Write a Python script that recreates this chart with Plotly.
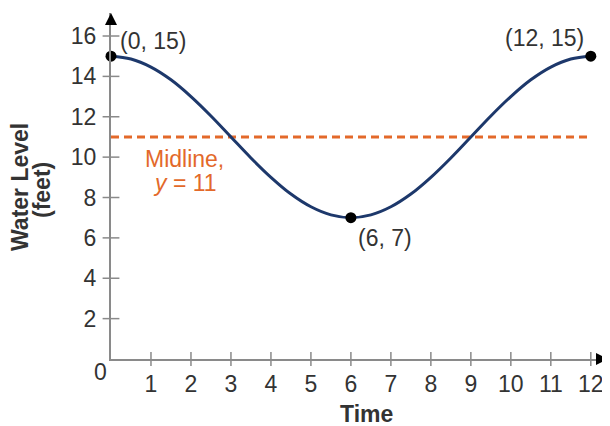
import plotly.graph_objects as go

# Data (water level in feet vs time)
time_pts = [0, 0.5, 1, 1.5, 2, 2.5, 3, 3.5, 4, 4.5, 5, 5.5, 6,
            6.5, 7, 7.5, 8, 8.5, 9, 9.5, 10, 10.5, 11, 11.5, 12]
level_pts = [15, 14.86, 14.46, 13.83, 13, 12.04, 11, 9.96, 9, 8.17, 7.54, 7.14, 7,
             7.14, 7.54, 8.17, 9, 9.96, 11, 12.04, 13, 13.83, 14.46, 14.86, 15]
key_x = [0, 6, 12]
key_y = [15, 7, 15]
key_labels = ["(0, 15)", "(6, 7)", "(12, 15)"]
midline_x = [0, 12]
midline_y = [11, 11]
midline_label_x = 1.85
x_ticks = [1, 2, 3, 4, 5, 6, 7, 8, 9, 10, 11, 12]
y_ticks = [2, 4, 6, 8, 10, 12, 14, 16]
x_max = 12.43
y_max = 17.14

AX = "#8a8a8a"
TXT = "#333333"
ORANGE = "#E3692A"
NAVY = "#1D386B"
FONT = "Liberation Sans, Arial, sans-serif"
FS = 23

fig = go.Figure()

# tick marks crossing the axes
fig.add_trace(go.Scatter(x=x_ticks, y=[0] * len(x_ticks), mode="markers",
                         marker=dict(symbol="line-ns", size=10, line=dict(color=AX, width=1.5)),
                         cliponaxis=False, hoverinfo="skip", showlegend=False))
fig.add_trace(go.Scatter(x=[0] * len(y_ticks), y=y_ticks, mode="markers",
                         marker=dict(symbol="line-ew", size=12, line=dict(color=AX, width=1.5)),
                         cliponaxis=False, hoverinfo="skip", showlegend=False))

# midline
fig.add_trace(go.Scatter(x=midline_x, y=midline_y, mode="lines",
                         line=dict(color=ORANGE, width=3, dash="8px,5px"),
                         hoverinfo="skip", showlegend=False))
# curve
fig.add_trace(go.Scatter(x=time_pts, y=level_pts, mode="lines",
                         line=dict(color=NAVY, width=3, shape="spline", smoothing=1),
                         cliponaxis=False, showlegend=False))
# key points
fig.add_trace(go.Scatter(x=key_x, y=key_y, mode="markers",
                         marker=dict(color="black", size=11),
                         cliponaxis=False, showlegend=False))

annotations = [
    # axis arrowheads
    dict(x=0, y=y_max, ax=0, ay=12, xref="x", yref="y",
         showarrow=True, arrowhead=2, arrowsize=1.6, arrowwidth=1.5, arrowcolor="black", text=""),
    dict(x=x_max, y=0, ax=-12, ay=0, xref="x", yref="y",
         showarrow=True, arrowhead=2, arrowsize=1.6, arrowwidth=1.5, arrowcolor="black", text=""),
    # point labels
    dict(x=key_x[0], y=key_y[0], text=key_labels[0], showarrow=False,
         xanchor="left", yanchor="middle", xshift=7, yshift=15),
    dict(x=key_x[1], y=key_y[1], text=key_labels[1], showarrow=False,
         xanchor="left", yanchor="middle", xshift=5, yshift=-20),
    dict(x=key_x[2], y=key_y[2], text=key_labels[2], showarrow=False,
         xanchor="right", yanchor="middle", xshift=-5, yshift=18),
    # midline label
    dict(x=midline_label_x, y=midline_y[0], text="Midline,", showarrow=False,
         xanchor="center", yanchor="middle", yshift=-22, font=dict(color=ORANGE)),
    dict(x=midline_label_x, y=midline_y[0], text="<i>y</i> = 11", showarrow=False,
         xanchor="center", yanchor="middle", yshift=-46, font=dict(color=ORANGE)),
    # origin label
    dict(x=0, y=0, text="0", showarrow=False, xanchor="right", yanchor="middle",
         xshift=-2, yshift=-13),
    # axis titles
    dict(x=0.5, y=0, xref="paper", yref="paper", text="<b>Time</b>", showarrow=False,
         xanchor="center", yanchor="middle", xshift=7, yshift=-55, borderpad=0),
    dict(x=0, y=0.5, xref="paper", yref="paper", text="<b>Water Level</b>", showarrow=False,
         textangle=-90, xanchor="center", yanchor="middle", xshift=-91, yshift=-1),
    dict(x=0, y=0.5, xref="paper", yref="paper", text="<b>(feet)</b>", showarrow=False,
         textangle=-90, xanchor="center", yanchor="middle", xshift=-69, yshift=-4),
]

# The page body has an 8px margin, so the figure is 8px smaller and offset.
fig.update_layout(
    width=602, height=418,
    margin=dict(l=103, r=2, t=5, b=67),
    paper_bgcolor="white", plot_bgcolor="white",
    font=dict(family=FONT, size=FS, color=TXT),
    annotations=annotations,
    showlegend=False,
)
fig.update_xaxes(range=[0, x_max], tickvals=x_ticks, ticks="", showgrid=False, zeroline=False,
                 showline=True, linecolor=AX, linewidth=2, ticklabelstandoff=3, automargin=False)
fig.update_yaxes(range=[0, y_max], tickvals=y_ticks, ticks="", showgrid=False, zeroline=False,
                 showline=True, linecolor=AX, linewidth=2, ticklabelstandoff=8, automargin=False)

fig.write_html("out.html")
